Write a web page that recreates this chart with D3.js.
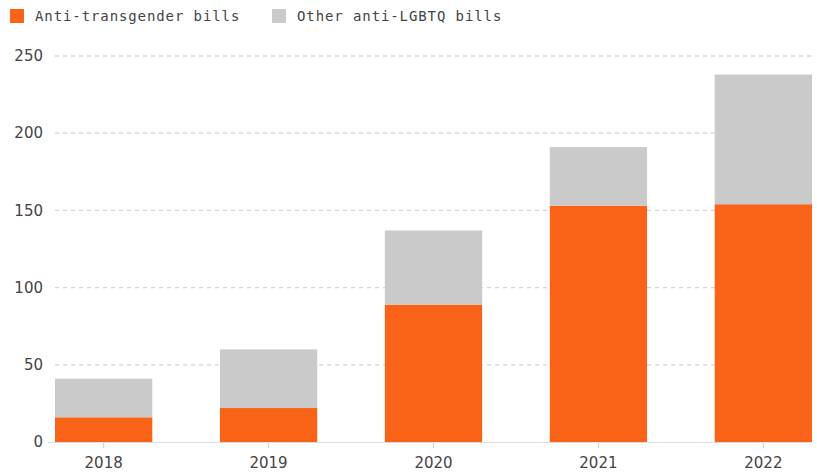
<!DOCTYPE html>
<html>
<head>
<meta charset="utf-8">
<script src="https://cdn.jsdelivr.net/npm/d3@7"></script>
<style>
  body { margin: 0; background: #fff; }
</style>
</head>
<body>
<div id="chart"></div>
<script>
const years = ["2018", "2019", "2020", "2021", "2022"];
const transBills = [16, 22, 89, 153, 154];
const otherBills = [25, 38, 48, 38, 84];
const yTicks = [0, 50, 100, 150, 200, 250];
const seriesNames = ["Anti-transgender bills", "Other anti-LGBTQ bills"];
const seriesColors = ["#f96318", "#cacaca"];

const width = 817;
const height = 474;
const margin = { left: 55, right: 5, top: 56, bottom: 32 };

const svg = d3
  .select("#chart")
  .append("svg")
  .attr("width", width)
  .attr("height", height);

const xScale = d3
  .scaleBand()
  .domain(years)
  .range([margin.left, width - margin.right])
  .paddingInner(0.41)
  .paddingOuter(0);

const yScale = d3
  .scaleLinear()
  .domain([0, 250])
  .range([height - margin.bottom, margin.top]);

// gridlines
svg
  .append("g")
  .selectAll("line")
  .data(yTicks.filter((d) => d > 0))
  .join("line")
  .attr("x1", margin.left)
  .attr("x2", width - margin.right)
  .attr("y1", (d) => yScale(d))
  .attr("y2", (d) => yScale(d))
  .attr("stroke", "#d4d4d4")
  .attr("stroke-width", 1.3)
  .attr("stroke-dasharray", "4,4");

// y labels
svg
  .append("g")
  .selectAll("text")
  .data(yTicks)
  .join("text")
  .attr("x", 43)
  .attr("y", (d) => yScale(d))
  .attr("dy", "0.35em")
  .attr("text-anchor", "end")
  .attr("font-family", "DejaVu Sans")
  .attr("font-size", 15)
  .attr("fill", "#444")
  .text((d) => d);

// stacked bars
const rows = years.map((y, i) => ({ year: y, a: transBills[i], b: otherBills[i] }));
const stacked = d3.stack().keys(["a", "b"])(rows);

svg
  .append("g")
  .selectAll("g")
  .data(stacked)
  .join("g")
  .attr("fill", (d, i) => seriesColors[i])
  .selectAll("rect")
  .data((d) => d)
  .join("rect")
  .attr("x", (d) => xScale(d.data.year))
  .attr("width", xScale.bandwidth())
  .attr("y", (d) => yScale(d[1]))
  .attr("height", (d) => yScale(d[0]) - yScale(d[1]));

// baseline
svg
  .append("line")
  .attr("x1", 48)
  .attr("x2", width - margin.right)
  .attr("y1", yScale(0) + 0.5)
  .attr("y2", yScale(0) + 0.5)
  .attr("stroke", "#dcdcdc")
  .attr("stroke-width", 1.2);

// x axis
const xAxis = svg
  .append("g")
  .attr("transform", `translate(0, ${yScale(0) + 1})`)
  .call(d3.axisBottom(xScale).tickSize(5).tickPadding(9));
xAxis.select(".domain").remove();
xAxis.selectAll(".tick line").attr("stroke", "#cfcfcf");
xAxis
  .selectAll(".tick text")
  .attr("font-family", "DejaVu Sans")
  .attr("font-size", 15)
  .attr("fill", "#444");

// legend
const legend = svg
  .append("g")
  .selectAll("g")
  .data(seriesNames)
  .join("g")
  .attr("transform", (d, i) => `translate(${[10, 272][i]}, 9)`);

legend
  .append("rect")
  .attr("width", 14)
  .attr("height", 14)
  .attr("fill", (d, i) => seriesColors[i]);

legend
  .append("text")
  .attr("x", 25)
  .attr("y", 12)
  .attr("font-family", "DejaVu Sans Mono")
  .attr("font-size", 14)
  .attr("letter-spacing", 0.9)
  .attr("fill", "#444")
  .text((d) => d);
</script>
</body>
</html>
